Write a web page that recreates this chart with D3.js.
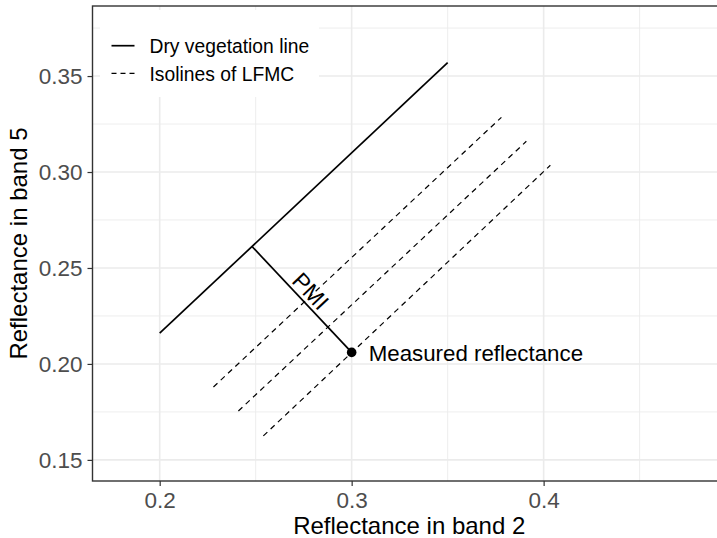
<!DOCTYPE html>
<html>
<head>
<meta charset="utf-8">
<script src="https://cdn.jsdelivr.net/npm/d3@7"></script>
<style>
  html, body { margin: 0; padding: 0; background: #fff; }
  svg { display: block; font-family: "Liberation Sans", Arial, Helvetica, sans-serif; }
</style>
</head>
<body>
<svg id="chart" width="717" height="538"></svg>
<script>
// ---- data ----
const xMajorTicks = [0.2, 0.3, 0.4];
const xMinorTicks = [0.25, 0.35, 0.45];
const yMajorTicks = [0.15, 0.20, 0.25, 0.30, 0.35];
const yMinorTicks = [0.175, 0.225, 0.275, 0.325, 0.375];

const dryLineX = [0.2, 0.35];
const dryLineY = [0.216, 0.357];

const isoStartX = [0.228, 0.241, 0.254];
const isoStartY = [0.188, 0.1755, 0.1625];
const isoEndX = [0.378, 0.391, 0.4035];
const isoEndY = [0.3285, 0.316, 0.3035];

const pmiX = [0.2481, 0.3];
const pmiY = [0.2612, 0.206];

const pointX = [0.3];
const pointY = [0.206];
const pointLabel = ["Measured reflectance"];

const legendLabels = ["Dry vegetation line", "Isolines of LFMC"];
const xTitle = "Reflectance in band 2";
const yTitle = "Reflectance in band 5";

// ---- layout ----
const svg = d3.select("#chart");
const P = { left: 92.5, right: 726, top: 6, bottom: 481 };

const x = d3.scaleLinear().domain([0.165, 0.495]).range([P.left, P.right]);
const y = d3.scaleLinear().domain([0.139, 0.3865]).range([P.bottom, P.top]);

svg.append("rect").attr("x", 0).attr("y", 0).attr("width", 717).attr("height", 538).attr("fill", "#fff");

// grid
const grid = svg.append("g");
grid.selectAll(".xminor").data(xMinorTicks).join("line")
  .attr("x1", d => x(d)).attr("x2", d => x(d)).attr("y1", P.top).attr("y2", P.bottom)
  .attr("stroke", "#EBEBEB").attr("stroke-width", 0.9);
grid.selectAll(".yminor").data(yMinorTicks).join("line")
  .attr("y1", d => y(d)).attr("y2", d => y(d)).attr("x1", P.left).attr("x2", P.right)
  .attr("stroke", "#EBEBEB").attr("stroke-width", 0.9);
grid.selectAll(".xmajor").data(xMajorTicks).join("line")
  .attr("x1", d => x(d)).attr("x2", d => x(d)).attr("y1", P.top).attr("y2", P.bottom)
  .attr("stroke", "#EBEBEB").attr("stroke-width", 1.6);
grid.selectAll(".ymajor").data(yMajorTicks).join("line")
  .attr("y1", d => y(d)).attr("y2", d => y(d)).attr("x1", P.left).attr("x2", P.right)
  .attr("stroke", "#EBEBEB").attr("stroke-width", 1.6);

// dry vegetation line
const line = d3.line().x(d => x(d[0])).y(d => y(d[1]));
svg.append("path")
  .attr("d", line(dryLineX.map((v, i) => [v, dryLineY[i]])))
  .attr("fill", "none").attr("stroke", "#000").attr("stroke-width", 1.7);

// isolines
isoStartX.forEach((sx, i) => {
  svg.append("path")
    .attr("d", line([[sx, isoStartY[i]], [isoEndX[i], isoEndY[i]]]))
    .attr("fill", "none").attr("stroke", "#000").attr("stroke-width", 1.2)
    .attr("stroke-dasharray", "5.5,4.5");
});

// PMI segment
svg.append("path")
  .attr("d", line(pmiX.map((v, i) => [v, pmiY[i]])))
  .attr("fill", "none").attr("stroke", "#000").attr("stroke-width", 1.7);

// PMI label
const mx = (x(pmiX[0]) + x(pmiX[1])) / 2;
const my = (y(pmiY[0]) + y(pmiY[1])) / 2;
const ang = Math.atan2(y(pmiY[1]) - y(pmiY[0]), x(pmiX[1]) - x(pmiX[0])) * 180 / Math.PI;
svg.append("text")
  .attr("transform", `translate(${mx},${my}) rotate(${ang})`)
  .attr("text-anchor", "middle").attr("dy", -4)
  .attr("font-size", 23).attr("fill", "#000").text("PMI");

// measured point
svg.selectAll(".pt").data(pointX).join("circle")
  .attr("cx", d => x(d)).attr("cy", (d, i) => y(pointY[i])).attr("r", 4.8).attr("fill", "#000");
svg.selectAll(".ptlab").data(pointX).join("text")
  .attr("x", d => x(d) + 17).attr("y", (d, i) => y(pointY[i]) + 8.5)
  .attr("font-size", 22.3).attr("fill", "#000").text((d, i) => pointLabel[i]);

// panel border
svg.append("rect").attr("x", P.left).attr("y", P.top)
  .attr("width", P.right - P.left).attr("height", P.bottom - P.top)
  .attr("fill", "none").attr("stroke", "#333").attr("stroke-width", 1.4);

// axes
const xAxis = svg.append("g").attr("transform", `translate(0,${P.bottom})`)
  .call(d3.axisBottom(x).tickValues(xMajorTicks).tickFormat(d3.format(".1f")).tickSize(5).tickPadding(6));
const yAxis = svg.append("g").attr("transform", `translate(${P.left},0)`)
  .call(d3.axisLeft(y).tickValues(yMajorTicks).tickFormat(d3.format(".2f")).tickSize(5).tickPadding(5));
[xAxis, yAxis].forEach(a => {
  a.select(".domain").remove();
  a.selectAll(".tick line").attr("stroke", "#333").attr("stroke-width", 1.2);
  a.selectAll(".tick text").attr("fill", "#4D4D4D").attr("font-size", 22.5)
    .attr("font-family", "'Liberation Sans', Arial, Helvetica, sans-serif");
});

// axis titles
svg.append("text").attr("x", (P.left + P.right) / 2).attr("y", 534)
  .attr("text-anchor", "middle").attr("font-size", 24).attr("fill", "#000").text(xTitle);
svg.append("text").attr("transform", `translate(27,${(P.top + P.bottom) / 2}) rotate(-90)`)
  .attr("text-anchor", "middle").attr("font-size", 24).attr("fill", "#000").text(yTitle);

// legend
const lg = svg.append("g");
lg.append("rect").attr("x", 100).attr("y", 10).attr("width", 219).attr("height", 87).attr("fill", "#fff");
const keyY = [45.7, 73.3];
const keyDash = [null, "5,4"];
legendLabels.forEach((lab, i) => {
  lg.append("line").attr("x1", 111.5).attr("x2", 134.5).attr("y1", keyY[i]).attr("y2", keyY[i])
    .attr("stroke", "#000").attr("stroke-width", i === 0 ? 1.7 : 1.2)
    .attr("stroke-dasharray", keyDash[i]);
  lg.append("text").attr("x", 149.5).attr("y", keyY[i] + 7.5)
    .attr("font-size", 19.3).attr("fill", "#000").text(lab);
});
</script>
</body>
</html>
